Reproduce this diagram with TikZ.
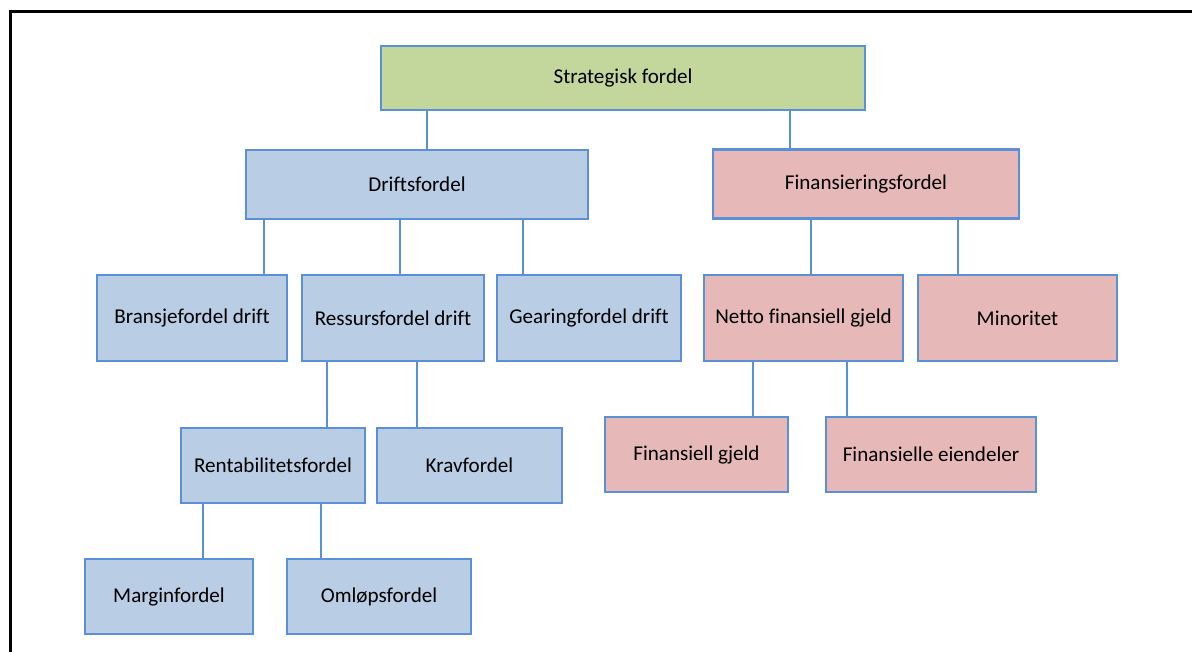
\documentclass[tikz,border=0pt]{standalone}
\usepackage{fontspec}
\setmainfont{Carlito}[Ligatures=NoCommon]
\usetikzlibrary{positioning}
\definecolor{cLine}{HTML}{5B8FD8}
\definecolor{cTop}{HTML}{C3D69B}
\definecolor{cDrift}{HTML}{B9CDE5}
\definecolor{cFin}{HTML}{E6B9B8}

\begin{document}
\begin{tikzpicture}[
  x=0.2mm, y=-0.2mm,
  font=\fontsize{12}{14}\selectfont,
  box/.style={draw=cLine, line width=1.3pt, inner sep=2pt, outer sep=0pt, align=center},
  topb/.style={box, fill=cTop},
  drb/.style={box, fill=cDrift},
  fib/.style={box, fill=cFin},
  link/.style={draw=cLine, line width=1.3pt},
]
\useasboundingbox (0,0) rectangle (1192,652);
% page frame, only top and left edge in view
\draw[line width=0.6mm] (10,652) |- (1192,12);

% level 1 and 2
\node[topb, minimum width=96.8mm, minimum height=12.8mm] (strat) at (623,78) {Strategisk fordel};
\node[drb, minimum width=68.4mm, minimum height=13.8mm] (drift) at (417,184.5) {Driftsfordel};
\node[fib, minimum width=61.2mm, minimum height=13.8mm] (fin) at (866,184) {Finansieringsfordel};

% level 3
\node[drb, minimum width=38mm, minimum height=17.2mm] (brans) at (192,318) {Bransjefordel drift};
\node[drb, minimum width=36.4mm, minimum height=17.2mm, right=3mm of brans] (ress) {Ressursfordel drift};
\node[drb, minimum width=36.8mm, minimum height=17.2mm, right=2.6mm of ress] (gear) {Gearingfordel drift};
\node[fib, minimum width=39.8mm, minimum height=17.2mm] (netto) at (803.5,318) {Netto finansiell gjeld};
\node[fib, minimum width=39.8mm, minimum height=17.2mm, right=3mm of netto] (minor) {Minoritet};

% level 4
\node[drb, minimum width=36.8mm, minimum height=15mm] (rent) at (273,465.5) {Rentabilitetsfordel};
\node[drb, minimum width=37mm, minimum height=15mm, right=2.4mm of rent] (krav) {Kravfordel};
\node[fib, minimum width=36.6mm, minimum height=15mm] (fgjeld) at (696.5,454.5) {Finansiell gjeld};
\node[fib, minimum width=42mm, minimum height=15mm, right=7.6mm of fgjeld] (feiend) {Finansielle eiendeler};

% level 5
\node[drb, minimum width=33.6mm, minimum height=15mm] (margin) at (169,596.5) {Marginfordel};
\node[drb, minimum width=36.8mm, minimum height=15mm, right=6.8mm of margin] (omlop) {Omløpsfordel};

% connectors, straight up into the parent
\draw[link] ([xshift=2mm]drift.north) -- ([xshift=2mm]drift.north |- strat.south);
\draw[link] ([xshift=-15.2mm]fin.north) -- ([xshift=-15.2mm]fin.north |- strat.south);
\draw[link] ([xshift=14.4mm]brans.north) -- ([xshift=14.4mm]brans.north |- drift.south);
\draw[link] ([xshift=1.4mm]ress.north) -- ([xshift=1.4mm]ress.north |- drift.south);
\draw[link] ([xshift=-13.2mm]gear.north) -- ([xshift=-13.2mm]gear.north |- drift.south);
\draw[link] ([xshift=1.5mm]netto.north) -- ([xshift=1.5mm]netto.north |- fin.south);
\draw[link] ([xshift=-11.9mm]minor.north) -- ([xshift=-11.9mm]minor.north |- fin.south);
\draw[link] ([xshift=10.8mm]rent.north) -- ([xshift=10.8mm]rent.north |- ress.south);
\draw[link] ([xshift=-10.5mm]krav.north) -- ([xshift=-10.5mm]krav.north |- ress.south);
\draw[link] ([xshift=11.3mm]fgjeld.north) -- ([xshift=11.3mm]fgjeld.north |- netto.south);
\draw[link] ([xshift=-16.8mm]feiend.north) -- ([xshift=-16.8mm]feiend.north |- netto.south);
\draw[link] ([xshift=6.8mm]margin.north) -- ([xshift=6.8mm]margin.north |- rent.south);
\draw[link] ([xshift=-11.6mm]omlop.north) -- ([xshift=-11.6mm]omlop.north |- rent.south);

\end{tikzpicture}
\end{document}
